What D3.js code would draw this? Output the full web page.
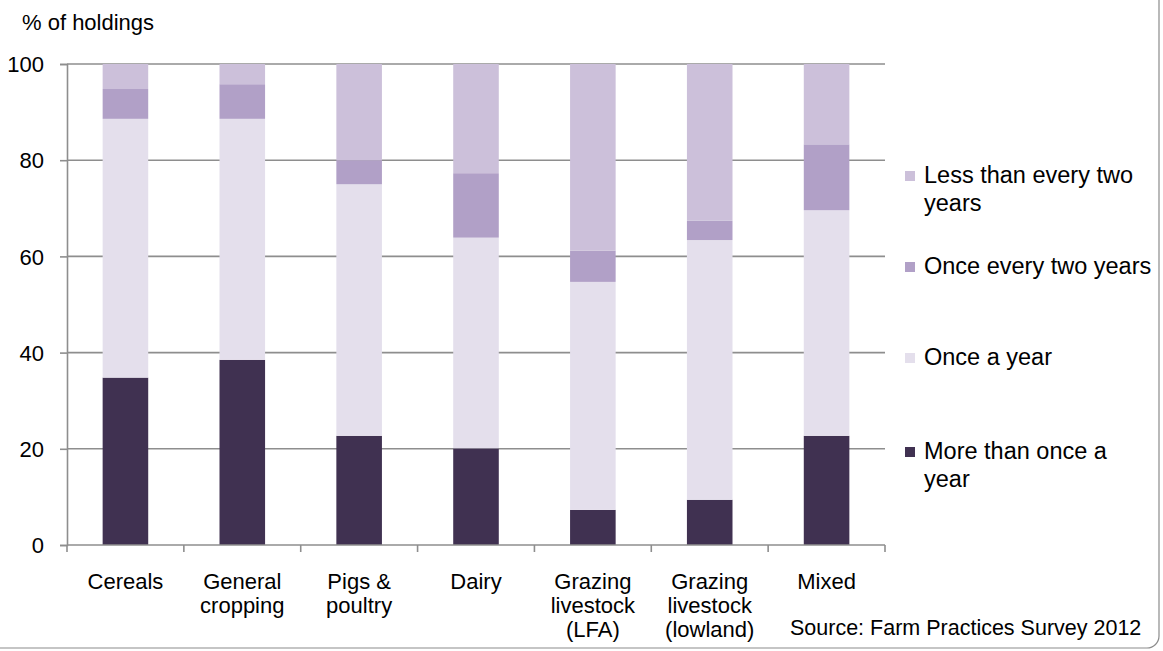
<!DOCTYPE html>
<html><head><meta charset="utf-8">
<script src="https://cdn.jsdelivr.net/npm/d3@7"></script>
<style>body{margin:0;background:#fff}svg{display:block}text{font-family:"Liberation Sans",Arial,sans-serif;fill:#000}</style>
</head><body>
<svg id="c" width="1163" height="651"></svg>
<script>
const categories = [["Cereals"],["General","cropping"],["Pigs &","poultry"],["Dairy"],["Grazing","livestock","(LFA)"],["Grazing","livestock","(lowland)"],["Mixed"]];
const catKeys = categories.map(c => c.join(" "));
const moreThanOnce = [34.8, 38.5, 22.7, 20.1, 7.3, 9.4, 22.7];
const onceAYear = [53.8, 50.1, 52.3, 43.8, 47.4, 54.0, 46.9];
const onceEveryTwo = [6.2, 7.2, 5.0, 13.4, 6.5, 4.0, 13.7];
const lessThanTwo = [5.2, 4.2, 20.0, 22.7, 38.8, 32.6, 16.7];
const seriesNames = ["More than once a year","Once a year","Once every two years","Less than every two years"];
const seriesColors = ["#403151","#e4dfec","#b1a0c7","#ccc0da"];
const yTicks = [0,20,40,60,80,100];

const svg = d3.select("#c");
// outer frame
svg.append("rect").attr("x",-12).attr("y",-12).attr("width",1171).attr("height",660)
  .attr("rx",12).attr("fill","none").attr("stroke","#8c8c8c").attr("stroke-width",1.2);

const x = d3.scaleBand().domain(catKeys).range([67,885]).paddingInner(0.61).paddingOuter(0.305);
const y = d3.scaleLinear().domain([0,100]).range([545,64]);

// gridlines
svg.append("g").selectAll("line").data(yTicks.filter(d=>d>0)).join("line")
  .attr("x1",67).attr("x2",885).attr("y1",d=>y(d)).attr("y2",d=>y(d))
  .attr("stroke","#8e8e8e").attr("stroke-width",1.6);

// stacked data
const rows = catKeys.map((k,i)=>({key:k, s0:moreThanOnce[i], s1:onceAYear[i], s2:onceEveryTwo[i], s3:lessThanTwo[i]}));
const stack = d3.stack().keys(["s0","s1","s2","s3"])(rows);
svg.append("g").selectAll("g").data(stack).join("g").attr("fill",(d,i)=>seriesColors[i])
  .selectAll("rect").data(d=>d).join("rect")
  .attr("x",d=>x(d.data.key)).attr("width",x.bandwidth())
  .attr("y",d=>y(d[1])).attr("height",d=>y(d[0])-y(d[1]));

// y axis
const yAxis = d3.axisLeft(y).tickValues(yTicks).tickSize(7).tickPadding(16).tickFormat(d3.format("d"));
const ya = svg.append("g").attr("transform","translate(67,0)").call(yAxis);
ya.select(".domain").attr("stroke","#8e8e8e").attr("stroke-width",1.6);
ya.selectAll(".tick line").attr("stroke","#8e8e8e").attr("stroke-width",1.6);
ya.selectAll(".tick text").attr("font-size",22).attr("font-family","Liberation Sans, Arial").attr("fill","#000").attr("dy","0.35em");

// x axis
svg.append("line").attr("x1",67).attr("x2",885).attr("y1",y(0)).attr("y2",y(0)).attr("stroke","#8e8e8e").attr("stroke-width",1.6);
const bounds = d3.range(catKeys.length+1).map(i=>67 + i*x.step());
svg.append("g").selectAll("line").data(bounds).join("line")
  .attr("x1",d=>d).attr("x2",d=>d).attr("y1",y(0)).attr("y2",y(0)+7)
  .attr("stroke","#8e8e8e").attr("stroke-width",1.6);
const xl = svg.append("g").selectAll("text").data(categories).join("text")
  .attr("text-anchor","middle").attr("font-size",22)
  .attr("x",(d,i)=>x(catKeys[i])+x.bandwidth()/2).attr("y",589);
xl.selectAll("tspan").data(d=>d).join("tspan")
  .attr("x",function(){return this.parentNode.getAttribute("x");})
  .attr("dy",(d,i)=>i===0?0:24).text(d=>d);

// y title
svg.append("text").attr("x",22).attr("y",30).attr("font-size",22).text("% of holdings");

// legend
const legend = [
  {i:3, lines:["Less than every two","years"], sy:171},
  {i:2, lines:["Once every two years"], sy:262},
  {i:1, lines:["Once a year"], sy:353},
  {i:0, lines:["More than once a","year"], sy:447}
];
const lg = svg.append("g").selectAll("g").data(legend).join("g");
lg.append("rect").attr("x",905).attr("y",d=>d.sy).attr("width",10).attr("height",10).attr("fill",d=>seriesColors[d.i]);
lg.append("text").attr("font-size",23.5).attr("y",d=>d.sy+12)
  .selectAll("tspan").data(d=>d.lines).join("tspan").attr("x",924).attr("dy",(d,i)=>i===0?0:28).text(d=>d);

// source
svg.append("text").attr("x",790).attr("y",635).attr("font-size",21.5).text("Source: Farm Practices Survey 2012");
</script>
</body></html>
